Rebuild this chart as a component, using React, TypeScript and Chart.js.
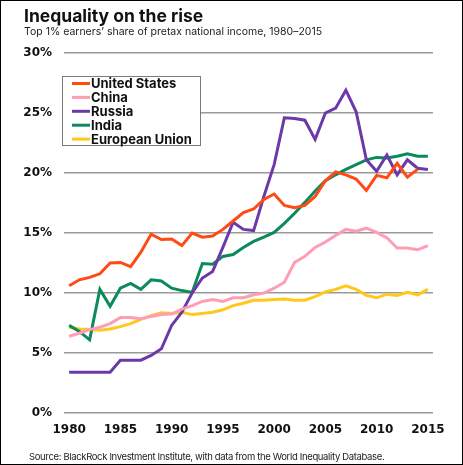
import React, { useEffect, useRef } from "react";
import { Chart, registerables } from "chart.js";

Chart.register(...registerables);

const years: string[] = [
  "1980", "1981", "1982", "1983", "1984", "1985", "1986", "1987", "1988", "1989",
  "1990", "1991", "1992", "1993", "1994", "1995", "1996", "1997", "1998", "1999",
  "2000", "2001", "2002", "2003", "2004", "2005", "2006", "2007", "2008", "2009",
  "2010", "2011", "2012", "2013", "2014", "2015",
];

const unitedStates: (number | null)[] = [
  10.6, 11.1, 11.3, 11.6, 12.5, 12.55, 12.2, 13.4, 14.9, 14.45,
  14.5, 13.95, 15.0, 14.65, 14.75, 15.3, 16.0, 16.7, 17.0, 17.8,
  18.25, 17.3, 17.1, 17.3, 18.05, 19.35, 20.1, 19.85, 19.5, 18.55,
  19.8, 19.6, 20.8, 19.65, 20.3, null,
];

const china: number[] = [
  6.4, 6.65, 6.95, 7.15, 7.45, 7.95, 7.95, 7.85, 8.05, 8.2,
  8.25, 8.65, 8.95, 9.3, 9.45, 9.3, 9.6, 9.6, 9.85, 10.0,
  10.4, 10.9, 12.55, 13.05, 13.8, 14.25, 14.8, 15.3, 15.15, 15.4,
  15.05, 14.6, 13.75, 13.75, 13.6, 13.95,
];

const russia: number[] = [
  3.4, 3.4, 3.4, 3.4, 3.4, 4.4, 4.4, 4.4, 4.8, 5.35,
  7.3, 8.4, 10.0, 11.25, 11.8, 13.8, 15.9, 15.3, 15.2, 18.05,
  20.7, 24.6, 24.55, 24.4, 22.8, 25.0, 25.4, 26.9, 25.1, 21.1,
  20.15, 21.5, 19.85, 21.1, 20.4, 20.3,
];

const india: number[] = [
  7.3, 6.8, 6.1, 10.3, 8.9, 10.4, 10.8, 10.3, 11.1, 11.0,
  10.4, 10.2, 10.05, 12.45, 12.4, 13.05, 13.2, 13.8, 14.3, 14.65,
  15.05, 15.8, 16.65, 17.55, 18.5, 19.35, 19.85, 20.3, 20.7, 21.1,
  21.3, 21.25, 21.4, 21.6, 21.4, 21.4,
];

const europeanUnion: number[] = [
  7.15, 7.0, 6.95, 6.9, 7.0, 7.2, 7.45, 7.8, 8.1, 8.35,
  8.3, 8.4, 8.2, 8.3, 8.4, 8.6, 8.95, 9.15, 9.4, 9.4,
  9.45, 9.5, 9.4, 9.4, 9.7, 10.1, 10.3, 10.6, 10.3, 9.8,
  9.6, 9.9, 9.8, 10.05, 9.85, 10.3,
];

const seriesLabels = ["United States", "China", "Russia", "India", "European Union"];
const seriesColors = ["#ff4a14", "#ff9db5", "#6b3aa8", "#0b8a5a", "#ffc81a"];
const xTickLabels = ["1980", "1985", "1990", "1995", "2000", "2005", "2010", "2015"];

const FONT = "Inter, 'Open Sans', sans-serif";
const TICK_FONT = "'DejaVu Sans', Inter, sans-serif";

const boxLegend = {
  id: "boxLegend",
  afterDraw(chart: any, _args: any, opts: any) {
    const ctx = chart.ctx;
    const { x, y, w, h, row, first, lineX0, lineX1, textX } = opts;
    ctx.save();
    ctx.fillStyle = "#ffffff";
    ctx.fillRect(x, y, w, h);
    ctx.strokeStyle = "#7a7a7a";
    ctx.lineWidth = 1;
    ctx.strokeRect(x + 0.5, y + 0.5, w, h);
    ctx.font = `bold 13px ${FONT}`;
    ctx.textBaseline = "middle";
    ctx.textAlign = "left";
    chart.data.datasets.forEach((ds: any, i: number) => {
      const cy = first + i * row;
      ctx.strokeStyle = ds.borderColor;
      ctx.lineWidth = 3;
      ctx.beginPath();
      ctx.moveTo(lineX0, cy);
      ctx.lineTo(lineX1, cy);
      ctx.stroke();
      ctx.fillStyle = "#111111";
      ctx.fillText(ds.label, textX, cy + 0.5);
    });
    ctx.restore();
  },
};

export default function App() {
  const canvasRef = useRef<HTMLCanvasElement | null>(null);

  useEffect(() => {
    document.body.style.margin = "0";
    const canvas = canvasRef.current;
    if (!canvas) return;
    const seriesData = [unitedStates, china, russia, india, europeanUnion];
    const chart = new Chart(canvas, {
      type: "line",
      data: {
        labels: years,
        datasets: seriesData.map((d, i) => ({
          label: seriesLabels[i],
          data: d,
          borderColor: seriesColors[i],
          backgroundColor: seriesColors[i],
          borderWidth: 3,
          pointRadius: 0,
          tension: 0,
          fill: false,
        })),
      },
      options: {
        animation: false,
        responsive: false,
        maintainAspectRatio: false,
        layout: { padding: { top: 53, right: 30, left: 0, bottom: 0 } },
        plugins: {
          legend: { display: false },
          tooltip: { enabled: false },
          title: { display: false },
          boxLegend: {
            x: 62, y: 76, w: 138, h: 69,
            row: 13.9, first: 83.5,
            lineX0: 72, lineX1: 90, textX: 91,
          },
        } as any,
        scales: {
          x: {
            type: "category",
            offset: true,
            grid: { display: false, drawTicks: false },
            border: { display: false },
            afterFit: (s: any) => { s.height = 52; },
            ticks: {
              autoSkip: false,
              maxRotation: 0,
              padding: 10,
              color: "#111111",
              font: { family: TICK_FONT, size: 12, weight: "bold" },
              callback: (_v: any, i: number) =>
                xTickLabels.includes(years[i]) ? years[i] : "",
            },
          },
          y: {
            min: 0,
            max: 30,
            afterFit: (s: any) => { s.width = 64; },
            grid: { color: "#9a9a9a", lineWidth: 1.5, drawTicks: false },
            border: { display: false },
            ticks: {
              stepSize: 5,
              padding: 12,
              color: "#111111",
              font: { family: TICK_FONT, size: 12, weight: "bold" },
              callback: (v: any) => `${v}%`,
            },
          },
        },
      },
      plugins: [boxLegend],
    });
    return () => chart.destroy();
  }, []);

  return (
    <div
      style={{
        position: "absolute",
        left: 0,
        top: 0,
        width: 463,
        height: 465,
        boxSizing: "border-box",
        border: "1px solid #000",
        background: "#fff",
        overflow: "hidden",
      }}
    >
      <canvas
        ref={canvasRef}
        width={463}
        height={465}
        style={{ position: "absolute", left: -1, top: -1, width: 463, height: 465 }}
      />
      <div
        style={{
          position: "absolute", left: 23, top: 4,
          font: `bold 17.5px ${FONT}`, color: "#111", whiteSpace: "nowrap",
        }}
      >
        Inequality on the rise
      </div>
      <div
        style={{
          position: "absolute", left: 23, top: 24,
          font: `10.5px ${FONT}`, color: "#222", whiteSpace: "nowrap",
        }}
      >
        Top 1% earners’ share of pretax national income, 1980–2015
      </div>
      <div
        style={{
          position: "absolute", left: 28, top: 450,
          font: `9.5px ${FONT}`, color: "#222", whiteSpace: "nowrap",
          letterSpacing: "-0.35px",
        }}
      >
        Source: BlackRock Investment Institute, with data from the World Inequality Database.
      </div>
    </div>
  );
}
